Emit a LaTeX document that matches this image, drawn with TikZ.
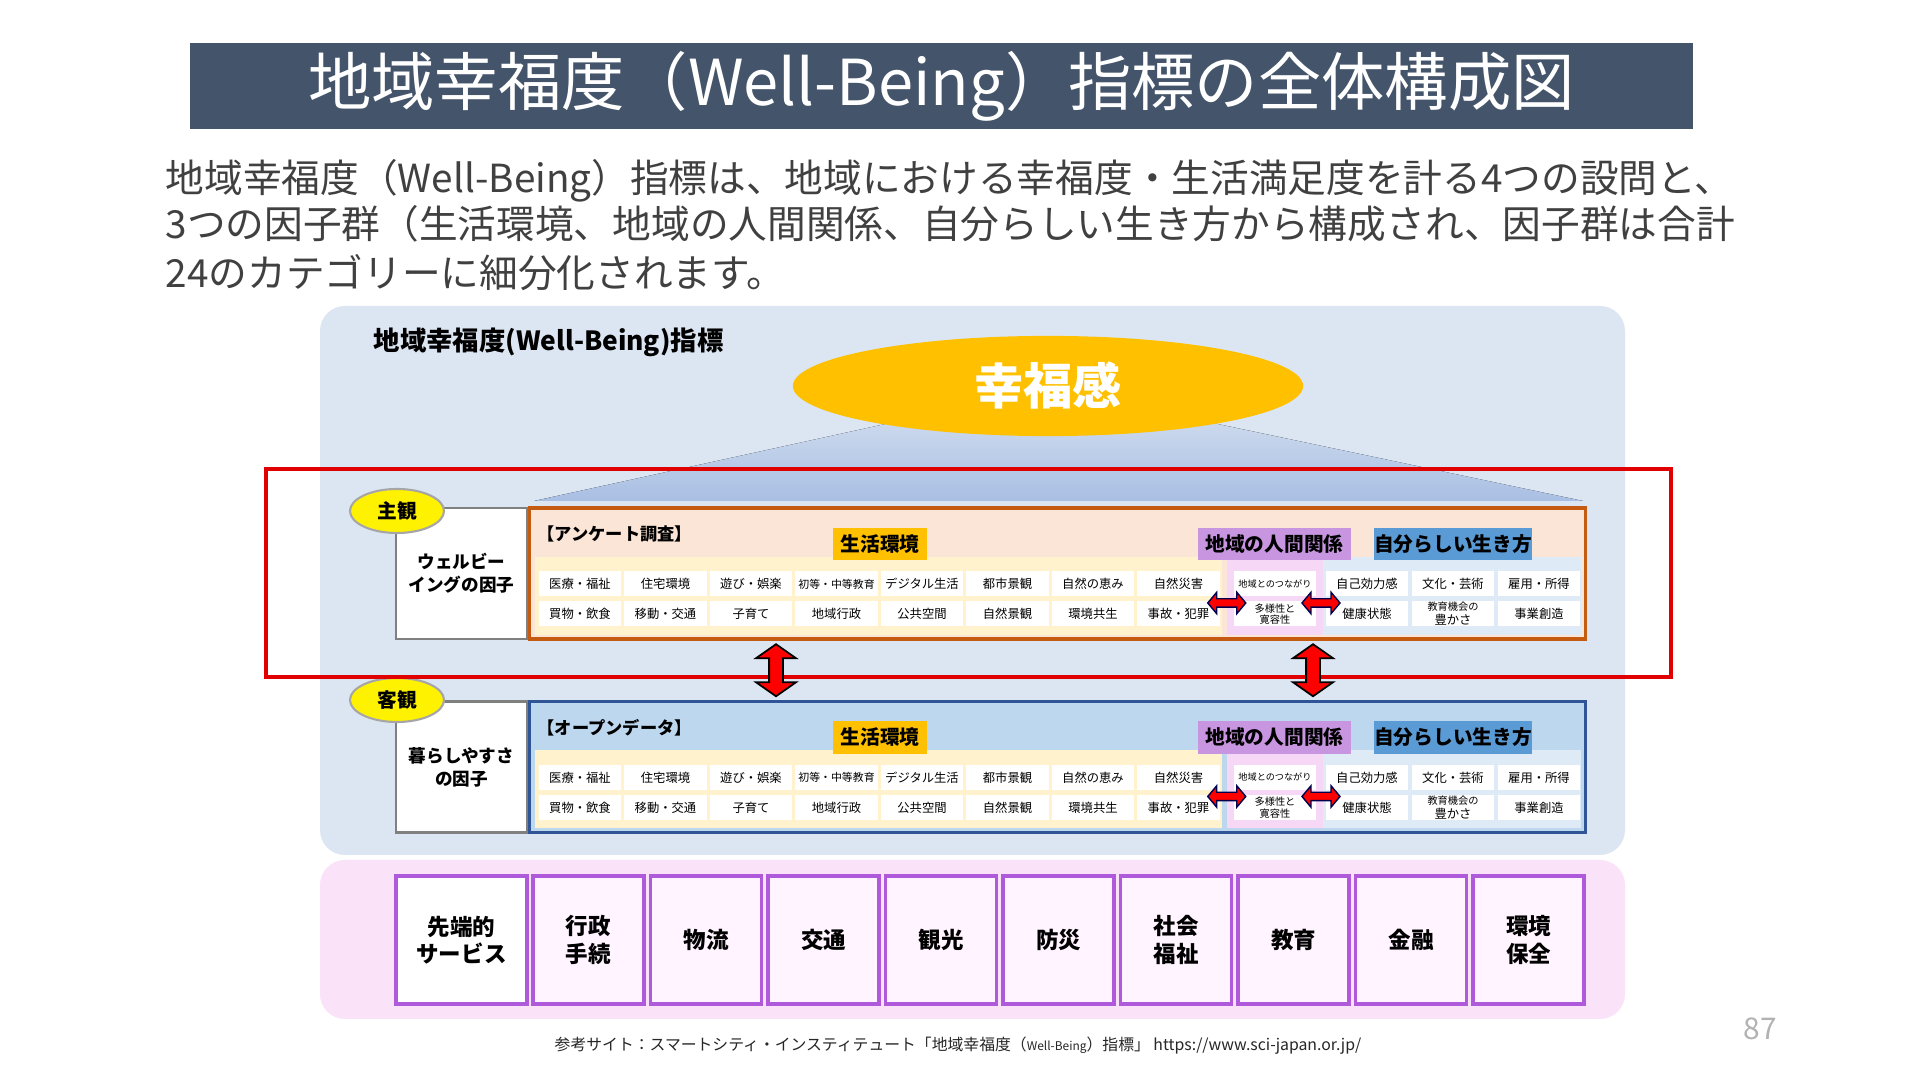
\documentclass[tikz,border=0pt]{standalone}
\usepackage{fontspec}
\setmainfont{Noto Sans CJK JP}
\usetikzlibrary{shapes.geometric,shapes.arrows,calc}

\definecolor{titlebg}{HTML}{44546A}
\definecolor{bodytext}{HTML}{404040}
\definecolor{panelblue}{HTML}{DCE6F2}
\definecolor{panelpink}{HTML}{FAE2F8}
\definecolor{happy}{HTML}{FFC000}
\definecolor{beamlow}{HTML}{A9BFE3}
\definecolor{frame}{HTML}{E00000}
\definecolor{surveyline}{HTML}{C55A11}
\definecolor{surveyfill}{HTML}{FBE5D6}
\definecolor{openline}{HTML}{2F5597}
\definecolor{openfill}{HTML}{BDD7EE}
\definecolor{bandyellow}{HTML}{FFF2CC}
\definecolor{bandpink}{HTML}{F6D8F6}
\definecolor{bandblue}{HTML}{DEEBF7}
\definecolor{tagpurple}{HTML}{C896E1}
\definecolor{tagblue}{HTML}{5B9BD5}
\definecolor{fieldline}{HTML}{AE5ADB}
\definecolor{fieldfill}{HTML}{FFF4FF}

\newcommand{\fsz}[2]{\fontsize{#1}{#2}\selectfont}

\begin{document}
\begin{tikzpicture}[x=0.01cm, y=-0.01cm,
  lead/.style={anchor=west, inner sep=0, text=bodytext, font=\fsz{11}{12}},
  cell/.style={fill=white, inner sep=0, minimum width=0.82cm, minimum height=0.25cm, align=center, font=\fsz{3.5}{4}},
  tag/.style={inner sep=0, minimum height=0.32cm, font=\bfseries\fsz{5.6}{6}},
  factorbox/.style={draw=gray, line width=0.6pt, fill=white, minimum width=1.31cm, minimum height=1.31cm, align=center, font=\bfseries\fsz{5}{6.6}},
  viewpoint/.style={ellipse, draw=gray!70, line width=0.6pt, fill=yellow, minimum width=0.94cm, minimum height=0.44cm, inner sep=0, font=\bfseries\fsz{5.6}{6}},
  field/.style={draw=fieldline, line width=1pt, fill=fieldfill, minimum width=1.11cm, minimum height=1.28cm, align=center, font=\bfseries\fsz{6.4}{7.8}},
  vdarrow/.style={double arrow, draw=black, line width=0.5pt, fill=red, inner xsep=0, inner ysep=0.06cm, minimum height=0.52cm, double arrow head extend=0.13cm, double arrow tip angle=110, rotate=90},
  hdarrow/.style={double arrow, draw=black!70!blue, line width=0.4pt, fill=red, inner xsep=0, inner ysep=0.035cm, minimum height=0.38cm, double arrow head extend=0.065cm, double arrow tip angle=100}
]
\useasboundingbox (0,0) rectangle (1920,1080);
\fill[white] (0,0) rectangle (1920,1080);

% title and lead text
\node[fill=titlebg, minimum width=15.03cm, minimum height=0.86cm, inner sep=0, text=white, font=\fsz{18}{20}] (title) at (941.5,86) {地域幸福度（Well-Being）指標の全体構成図};
\node[lead] (lead1) at (165,181) {地域幸福度（Well-Being）指標は、地域における幸福度・生活満足度を計る4つの設問と、};
\node[lead] (lead2) at (165,224) {3つの因子群（生活環境、地域の人間関係、自分らしい生き方から構成され、因子群は合計};
\node[lead] (lead3) at (165,273) {24のカテゴリーに細分化されます。};

% panels
\fill[panelblue, rounded corners=0.25cm] (320,306) rectangle (1625,855);
\fill[panelpink, rounded corners=0.25cm] (320,860) rectangle (1625,1019);
\node[anchor=west, inner sep=0, font=\bfseries\fsz{7.5}{8}] (index) at (373,342) {地域幸福度(Well-Being)指標};

% happiness
\fill[top color=beamlow!30!panelblue, bottom color=beamlow] (913,418) -- (1189,418) -- (1583,501) -- (534,501) -- cycle;
\node[ellipse, fill=happy, minimum width=5.1cm, minimum height=0.8cm, text=white, font=\bfseries\fsz{14}{16}] (happy) at (1048,386) {幸福感};

% factor boxes
\node[draw=surveyline, line width=1pt, fill=surveyfill, minimum width=10.55cm, minimum height=1.31cm, inner sep=0] (survey) at (1057.5,573.5) {};
\node[draw=openline, line width=1pt, fill=openfill, minimum width=10.55cm, minimum height=1.31cm, inner sep=0] (open) at (1057.5,767) {};

\foreach \yo/\bx/\hdr in {0/s/【アンケート調査】, 193.5/o/【オープンデータ】}{
  \fill[bandyellow] (535,557+\yo) rectangle (1222,635+\yo);
  \fill[bandpink] (1227,557+\yo) rectangle (1323,635+\yo);
  \fill[bandblue] (1323,557+\yo) rectangle (1581,635+\yo);
  \node[anchor=west, inner sep=0, font=\bfseries\fsz{4.9}{5}] (\bx-hdr) at (537,534+\yo) {\hdr};
  \node[tag, fill=happy, minimum width=0.94cm] (\bx-env) at (880,544+\yo) {生活環境};
  \node[tag, fill=tagpurple, minimum width=1.53cm] (\bx-rel) at (1274.5,544+\yo) {地域の人間関係};
  \node[tag, fill=tagblue, minimum width=1.58cm] (\bx-own) at (1453,544+\yo) {自分らしい生き方};
  \foreach \lbl [count=\i] in {医療・福祉,住宅環境,遊び・娯楽,{\fsz{3.1}{4}初等・中等教育},デジタル生活,都市景観,自然の恵み,自然災害}
    \node[cell] (\bx-a\i) at ({580+85.5*(\i-1)},584+\yo) {\lbl};
  \foreach \lbl [count=\i] in {買物・飲食,移動・交通,子育て,地域行政,公共空間,自然景観,環境共生,事故・犯罪}
    \node[cell] (\bx-b\i) at ({580+85.5*(\i-1)},614+\yo) {\lbl};
  \node[cell, font=\fsz{2.6}{3}] (\bx-r1) at (1275,584+\yo) {地域とのつながり};
  \node[cell, font=\fsz{2.9}{3.3}] (\bx-r2) at (1275,614+\yo) {多様性と\\寛容性};
  \foreach \lbl [count=\i] in {自己効力感,文化・芸術,雇用・所得}
    \node[cell] (\bx-c\i) at ({1367+86*(\i-1)},584+\yo) {\lbl};
  \foreach \lbl [count=\i] in {健康状態,{\fsz{2.9}{3.3}教育機会の\\豊かさ},事業創造}
    \node[cell] (\bx-d\i) at ({1367+86*(\i-1)},614+\yo) {\lbl};
  \node[hdarrow] (\bx-arr1) at ($(\bx-b8.east)!0.5!(\bx-r2.west) + (0,-11)$) {};
  \node[hdarrow] (\bx-arr2) at ($(\bx-r2.east)!0.5!(\bx-d1.west) + (0,-11)$) {};
}

\node[factorbox] (wellf) at (461.5,573.5) {ウェルビー\\イングの因子};
\node[factorbox] (livef) at (461.5,767) {暮らしやすさ\\の因子};
\node[viewpoint] (subj) at (397,511) {主観};
\node[viewpoint] (obj) at (397,700) {客観};

% red frame and links
\draw[frame, line width=1.1pt] (266,469) rectangle (1671,677);
\node[vdarrow] (link1) at ($(survey.south)!0.5!(open.north) + (-281.5,0)$) {};
\node[vdarrow] (link2) at ($(survey.south)!0.5!(open.north) + (255.5,0)$) {};

% service fields
\node[field, fill=white, minimum width=1.31cm] (f1) at (461.5,940) {先端的\\サービス};
\foreach \lbl [count=\i from 2] in {{行政\\手続},物流,交通,観光,防災,{社会\\福祉},教育,金融,{環境\\保全}}
  \node[field] (f\i) at ({588.5+117.5*(\i-2)},940) {\lbl};

% source and page
\node[inner sep=0, text=black!85, font=\fsz{4.5}{5}] (src) at (958,1046) {参考サイト：スマートシティ・インスティテュート「地域幸福度（{\fsz{3.4}{4}Well-Being}）指標」 https://www.sci-japan.or.jp/};
\node[inner sep=0, text=gray!60, font=\fsz{8.5}{10}] (page) at (1760,1029) {87};
\end{tikzpicture}
\end{document}
